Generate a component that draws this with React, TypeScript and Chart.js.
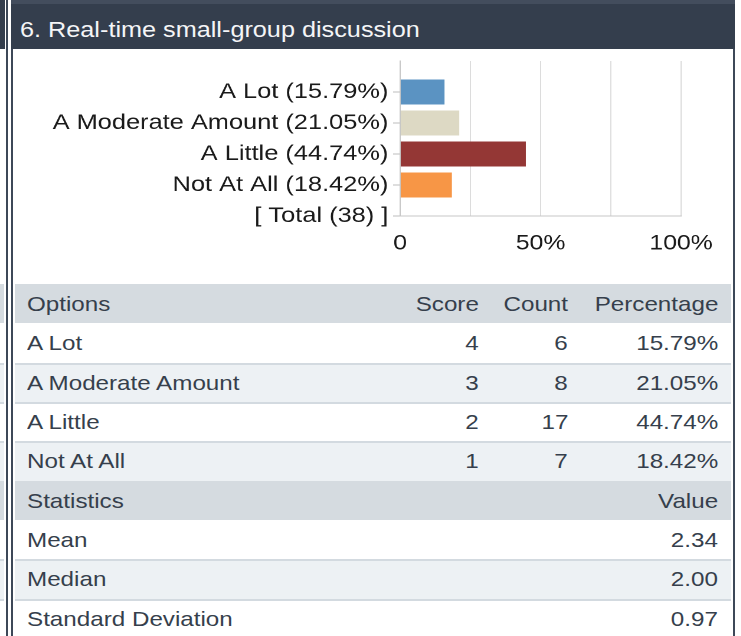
import React, { useEffect, useRef } from 'react';
import { Chart, registerables } from 'chart.js';

Chart.register(...registerables);

const titleText = '6. Real-time small-group discussion';
const categories = ['A Lot', 'A Moderate Amount', 'A Little', 'Not At All'];
const scores = [4, 3, 2, 1];
const counts = [6, 8, 17, 7];
const percentages = [15.79, 21.05, 44.74, 18.42];
const total = 38;
const barColors = ['#5b93c2', '#ddd9c4', '#943735', '#f79646'];
const xTickValues = [0, 25, 50, 75, 100];
const xTickLabels = ['0', '', '50%', '', '100%'];
const tableHeader = ['Options', 'Score', 'Count', 'Percentage'];
const statsHeader = ['Statistics', 'Value'];
const statNames = ['Mean', 'Median', 'Standard Deviation'];
const statValues = ['2.34', '2.00', '0.97'];

const K_TITLE = 1.18;
const K_TABLE = 1.152;
const FONT = '"Liberation Sans", Arial, Helvetica, sans-serif';
const TEXT = '#363f4c';
const HEAD_BG = '#d5dbe0';
const STRIPE_BG = '#edf1f4';
const SEP = '#d3dae0';
const DARK = '#343e4d';

const CANVAS_W = 610;
const CANVAS_H = 236;
const REAL_W = 720;

function SX({ children, align, k }: { children: any; align: 'left' | 'right'; k: number }) {
  return (
    <span
      style={{
        display: 'inline-block',
        whiteSpace: 'nowrap',
        transform: `scaleX(${k})`,
        transformOrigin: align === 'right' ? 'right center' : 'left center',
      }}
    >
      {children}
    </span>
  );
}

function BarChart() {
  const ref = useRef<HTMLCanvasElement | null>(null);
  useEffect(() => {
    if (!ref.current) return;
    const labels = [
      '',
      ...categories.map((c, i) => `${c} (${percentages[i].toFixed(2)}%)`),
      `[ Total (${total}) ]`,
    ];
    const data = [null, ...percentages, null];
    const colors = ['rgba(0,0,0,0)', ...barColors, 'rgba(0,0,0,0)'];
    const chart = new Chart(ref.current, {
      type: 'bar',
      data: {
        labels,
        datasets: [
          {
            data: data as any,
            backgroundColor: colors,
            borderWidth: 0,
            categoryPercentage: 1,
            barPercentage: 0.81,
          },
        ],
      },
      options: {
        indexAxis: 'y',
        animation: false,
        responsive: false,
        devicePixelRatio: 2,
        layout: { padding: { top: 13, right: 44, left: 0, bottom: 0 } },
        plugins: { legend: { display: false }, tooltip: { enabled: false } },
        scales: {
          x: {
            type: 'linear',
            min: 0,
            max: 100,
            afterBuildTicks: (scale: any) => {
              scale.ticks = xTickValues.map((v) => ({ value: v }));
            },
            afterFit: (scale: any) => {
              scale.height = 68;
            },
            grid: { color: '#dcdcdc', drawTicks: false, lineWidth: 1 },
            border: { display: true, color: '#c6c6c6' },
            ticks: {
              padding: 15,
              color: '#1a1a1a',
              font: { family: FONT, size: 21 },
              maxRotation: 0,
              autoSkip: false,
              callback: (v: any) => {
                const i = xTickValues.indexOf(Number(v));
                return i >= 0 ? xTickLabels[i] : '';
              },
            },
          },
          y: {
            type: 'category',
            offset: false,
            afterFit: (scale: any) => {
              scale.width = 328;
              scale.paddingTop = 0;
              scale.paddingBottom = 0;
            },
            grid: {
              offset: false,
              drawOnChartArea: false,
              drawTicks: true,
              tickLength: 6,
              color: (ctx: any) => (ctx.index === 0 ? 'rgba(0,0,0,0)' : '#bdbdbd'),
            },
            border: { display: true, color: '#c6c6c6' },
            ticks: {
              padding: 4,
              color: '#1a1a1a',
              font: { family: FONT, size: 21.5 },
              autoSkip: false,
            },
          },
        },
      },
    });
    return () => chart.destroy();
  }, []);
  return (
    <div
      style={{
        position: 'absolute',
        left: 13,
        top: 48,
        width: CANVAS_W,
        height: CANVAS_H,
        transform: `scaleX(${REAL_W / CANVAS_W})`,
        transformOrigin: '0 0',
      }}
    >
      <canvas
        ref={ref}
        width={CANVAS_W}
        height={CANVAS_H}
        style={{ display: 'block', width: CANVAS_W, height: CANVAS_H }}
      />
    </div>
  );
}

type Row = { kind: 'head' | 'data'; bg: string; sep: boolean; left: string; rights: string[] };

function buildRows(): Row[] {
  const rows: Row[] = [];
  rows.push({ kind: 'head', bg: HEAD_BG, sep: false, left: tableHeader[0], rights: tableHeader.slice(1) });
  categories.forEach((c, i) => {
    rows.push({
      kind: 'data',
      bg: i % 2 === 0 ? '#ffffff' : STRIPE_BG,
      sep: i > 0,
      left: c,
      rights: [String(scores[i]), String(counts[i]), `${percentages[i].toFixed(2)}%`],
    });
  });
  rows.push({ kind: 'head', bg: HEAD_BG, sep: false, left: statsHeader[0], rights: ['', '', statsHeader[1]] });
  statNames.forEach((s, i) => {
    rows.push({
      kind: 'data',
      bg: i % 2 === 0 ? '#ffffff' : STRIPE_BG,
      sep: i > 0,
      left: s,
      rights: ['', '', statValues[i]],
    });
  });
  return rows;
}

const ROW_TOP = 284;
const ROW_H = 39.33;
const rightOffsets = [252, 163, 13];

export default function App() {
  const rows = buildRows();
  return (
    <div
      style={{
        position: 'absolute',
        left: 0,
        top: 0,
        width: 741,
        height: 636,
        overflow: 'hidden',
        background: '#ffffff',
        fontFamily: FONT,
        color: TEXT,
      }}
    >
      {/* neighbouring panel edge on the left */}
      <div style={{ position: 'absolute', left: 0, top: 0, width: 5, height: 49, background: DARK }} />
      {rows.map((r, i) => (
        <div
          key={'n' + i}
          style={{
            position: 'absolute',
            left: 0,
            top: ROW_TOP + i * ROW_H,
            width: 4,
            height: ROW_H,
            background: r.bg,
            boxSizing: 'border-box',
            borderTop: r.sep ? `2px solid ${SEP}` : 'none',
          }}
        />
      ))}
      <div style={{ position: 'absolute', left: 6, top: 0, width: 1.5, height: 636, background: '#3d4858' }} />

      {/* panel borders */}
      <div style={{ position: 'absolute', left: 11, top: 0, width: 2, height: 636, background: '#3d4858' }} />
      <div style={{ position: 'absolute', left: 733, top: 0, width: 2, height: 636, background: '#3d4858' }} />

      {/* header */}
      <div style={{ position: 'absolute', left: 11, top: 0, width: 724, height: 49, background: DARK }} />
      <div style={{ position: 'absolute', left: 11, top: 0, width: 724, height: 4, background: '#434d5d' }} />
      <div
        style={{
          position: 'absolute',
          left: 20,
          top: 19,
          height: 22,
          lineHeight: '22px',
          fontSize: 21.4,
          color: '#f4f5f7',
        }}
      >
        <SX align="left" k={K_TITLE}>{titleText}</SX>
      </div>

      <BarChart />

      {/* table */}
      {rows.map((r, i) => (
        <div
          key={'r' + i}
          style={{
            position: 'absolute',
            left: 15,
            top: ROW_TOP + i * ROW_H,
            width: 716,
            height: ROW_H,
            background: r.bg,
            boxSizing: 'border-box',
            borderTop: r.sep ? `2px solid ${SEP}` : 'none',
            fontSize: 21,
          }}
        >
          <div
            style={{
              position: 'absolute',
              left: 12,
              top: r.sep ? -2 : 0,
              height: ROW_H,
              lineHeight: `${ROW_H}px`,
            }}
          >
            <SX align="left" k={K_TABLE}>{r.left}</SX>
          </div>
          {r.rights.map((t, j) =>
            t ? (
              <div
                key={j}
                style={{
                  position: 'absolute',
                  right: rightOffsets[j],
                  top: r.sep ? -2 : 0,
                  height: ROW_H,
                  lineHeight: `${ROW_H}px`,
                  textAlign: 'right',
                }}
              >
                <SX align="right" k={K_TABLE}>{t}</SX>
              </div>
            ) : null
          )}
        </div>
      ))}
    </div>
  );
}
